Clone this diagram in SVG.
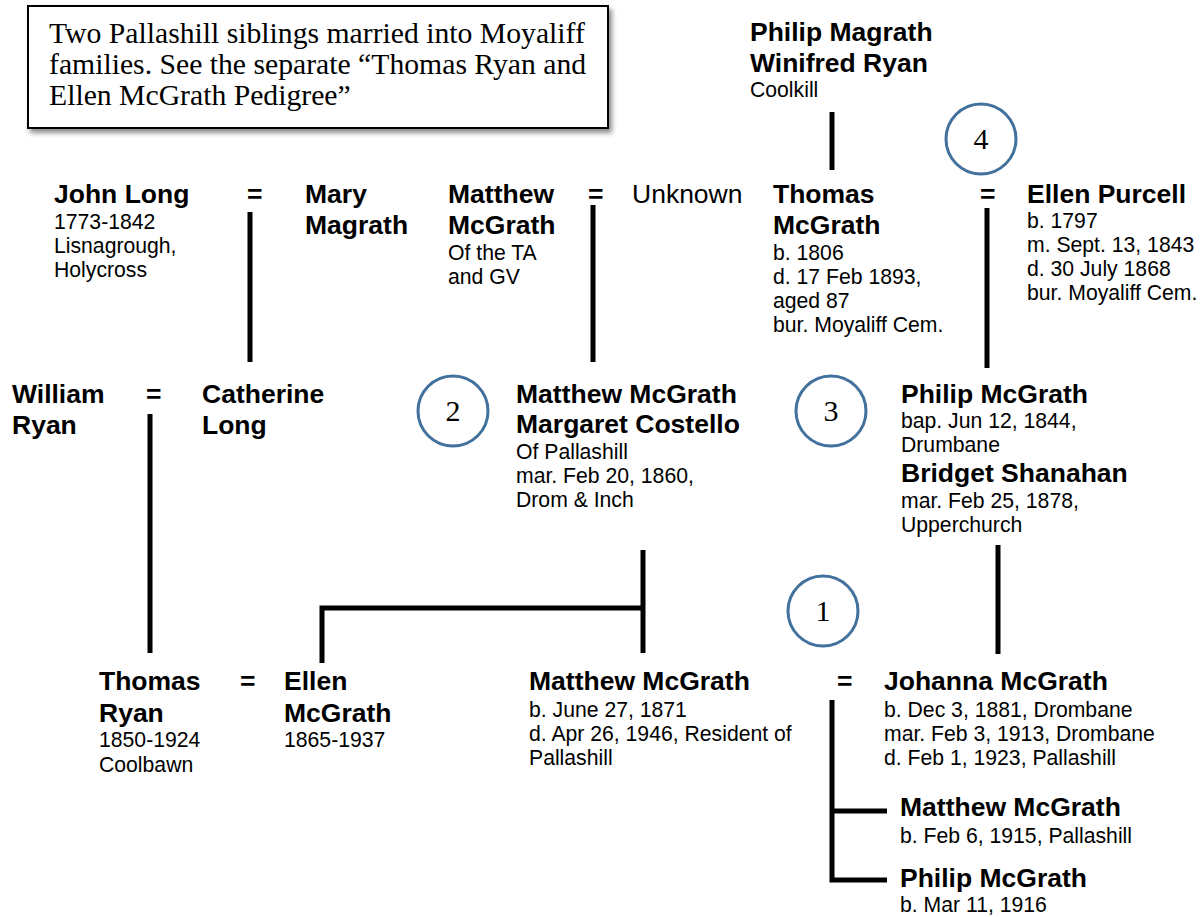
<svg xmlns="http://www.w3.org/2000/svg" width="1202" height="917" viewBox="0 0 1202 917">
<defs>
<filter id="shadow" x="-5%" y="-10%" width="115%" height="130%">
<feDropShadow dx="3" dy="4" stdDeviation="2.5" flood-color="#000" flood-opacity="0.45"/>
</filter>
<style>
text{font-family:"Liberation Sans",Arial,sans-serif;fill:#000}
.b{font-weight:bold;font-size:26.5px}
.r{font-size:21.2px}
.u{font-size:26.5px}
.note{font-family:"Liberation Serif","Times New Roman",serif;font-size:29.7px}
.num{font-family:"Liberation Serif","Times New Roman",serif;font-size:30px;text-anchor:middle}
.circ{fill:none;stroke:#41719C;stroke-width:3}
.ln{fill:none;stroke:#000;stroke-width:5}
</style>
</defs>
<rect width="1202" height="917" fill="#fff"/>

<g id="note">
<rect x="28" y="6" width="580" height="122" fill="#fff" stroke="#000" stroke-width="2" filter="url(#shadow)"/>
<text class="note" x="49" y="43">Two Pallashill siblings married into Moyaliff</text>
<text class="note" x="49" y="74">families. See the separate “Thomas Ryan and</text>
<text class="note" x="49" y="105">Ellen McGrath Pedigree”</text>
</g>

<g id="connectors">
<line class="ln" x1="250" y1="212" x2="250" y2="362"/>
<line class="ln" x1="593" y1="205" x2="593" y2="362"/>
<line class="ln" x1="832" y1="112" x2="832" y2="170"/>
<line class="ln" x1="987" y1="208" x2="987" y2="368"/>
<line class="ln" x1="150" y1="414" x2="150" y2="653"/>
<line class="ln" x1="643" y1="550" x2="643" y2="653"/>
<path class="ln" d="M322,663 V608 H645"/>
<line class="ln" x1="998" y1="545" x2="998" y2="654"/>
<path class="ln" d="M832,700 V880 H887"/>
<line class="ln" x1="832" y1="811" x2="887" y2="811"/>
</g>

<g id="john-long">
<text class="b" x="54" y="203">John Long</text>
<text class="r" x="54" y="229">1773-1842</text>
<text class="r" x="54" y="253">Lisnagrough,</text>
<text class="r" x="54" y="277">Holycross</text>
</g>
<g id="eq1"><text class="b" x="247" y="203">=</text></g>
<g id="mary-magrath">
<text class="b" x="305" y="203">Mary</text>
<text class="b" x="305" y="234">Magrath</text>
</g>

<g id="matthew-mcgrath-sr">
<text class="b" x="448" y="203">Matthew</text>
<text class="b" x="448" y="234">McGrath</text>
<text class="r" x="448" y="260">Of the TA</text>
<text class="r" x="448" y="284">and GV</text>
</g>
<g id="eq2"><text class="b" x="588" y="203">=</text></g>
<g id="unknown"><text class="u" x="632" y="203">Unknown</text></g>

<g id="philip-magrath">
<text class="b" x="750" y="41">Philip Magrath</text>
<text class="b" x="750" y="72">Winifred Ryan</text>
<text class="r" x="750" y="97">Coolkill</text>
</g>

<g id="thomas-mcgrath">
<text class="b" x="773" y="203">Thomas</text>
<text class="b" x="773" y="234">McGrath</text>
<text class="r" x="773" y="260">b. 1806</text>
<text class="r" x="773" y="284">d. 17 Feb 1893,</text>
<text class="r" x="773" y="308">aged 87</text>
<text class="r" x="773" y="332">bur. Moyaliff Cem.</text>
</g>

<g id="circle4">
<circle class="circ" cx="981" cy="139" r="35"/>
<text class="num" x="981" y="149">4</text>
</g>
<g id="eq3"><text class="b" x="980" y="203">=</text></g>

<g id="ellen-purcell">
<text class="b" x="1027" y="203">Ellen Purcell</text>
<text class="r" x="1027" y="228">b. 1797</text>
<text class="r" x="1027" y="252">m. Sept. 13, 1843</text>
<text class="r" x="1027" y="276">d. 30 July 1868</text>
<text class="r" x="1027" y="300">bur. Moyaliff Cem.</text>
</g>

<g id="william-ryan">
<text class="b" x="12" y="403">William</text>
<text class="b" x="12" y="434">Ryan</text>
</g>
<g id="eq4"><text class="b" x="146" y="403">=</text></g>
<g id="catherine-long">
<text class="b" x="202" y="403">Catherine</text>
<text class="b" x="202" y="434">Long</text>
</g>

<g id="circle2">
<circle class="circ" cx="453" cy="411" r="35"/>
<text class="num" x="453" y="421">2</text>
</g>

<g id="matthew-margaret">
<text class="b" x="516" y="403">Matthew McGrath</text>
<text class="b" x="516" y="433">Margaret Costello</text>
<text class="r" x="516" y="459">Of Pallashill</text>
<text class="r" x="516" y="483">mar. Feb 20, 1860,</text>
<text class="r" x="516" y="507">Drom &amp; Inch</text>
</g>

<g id="circle3">
<circle class="circ" cx="831" cy="411" r="35"/>
<text class="num" x="831" y="421">3</text>
</g>

<g id="philip-bridget">
<text class="b" x="901" y="403">Philip McGrath</text>
<text class="r" x="901" y="428">bap. Jun 12, 1844,</text>
<text class="r" x="901" y="452">Drumbane</text>
<text class="b" x="901" y="482">Bridget Shanahan</text>
<text class="r" x="901" y="508">mar. Feb 25, 1878,</text>
<text class="r" x="901" y="532">Upperchurch</text>
</g>

<g id="circle1">
<circle class="circ" cx="823" cy="611" r="35"/>
<text class="num" x="823" y="621">1</text>
</g>

<g id="thomas-ryan">
<text class="b" x="99" y="690">Thomas</text>
<text class="b" x="99" y="722">Ryan</text>
<text class="r" x="99" y="747">1850-1924</text>
<text class="r" x="99" y="772">Coolbawn</text>
</g>
<g id="eq5"><text class="b" x="240" y="690">=</text></g>
<g id="ellen-mcgrath">
<text class="b" x="284" y="690">Ellen</text>
<text class="b" x="284" y="722">McGrath</text>
<text class="r" x="284" y="747">1865-1937</text>
</g>

<g id="matthew-mcgrath-1871">
<text class="b" x="529" y="690">Matthew McGrath</text>
<text class="r" x="529" y="717">b. June 27, 1871</text>
<text class="r" x="529" y="741">d. Apr 26, 1946, Resident of</text>
<text class="r" x="529" y="765">Pallashill</text>
</g>
<g id="eq6"><text class="b" x="837" y="690">=</text></g>

<g id="johanna-mcgrath">
<text class="b" x="884" y="690">Johanna McGrath</text>
<text class="r" x="884" y="717">b. Dec 3, 1881, Drombane</text>
<text class="r" x="884" y="741">mar. Feb 3, 1913, Drombane</text>
<text class="r" x="884" y="765">d. Feb 1, 1923, Pallashill</text>
</g>

<g id="matthew-mcgrath-1915">
<text class="b" x="900" y="816">Matthew McGrath</text>
<text class="r" x="900" y="843">b. Feb 6, 1915, Pallashill</text>
</g>

<g id="philip-mcgrath-1916">
<text class="b" x="900" y="887">Philip McGrath</text>
<text class="r" x="900" y="912">b. Mar 11, 1916</text>
</g>
</svg>
